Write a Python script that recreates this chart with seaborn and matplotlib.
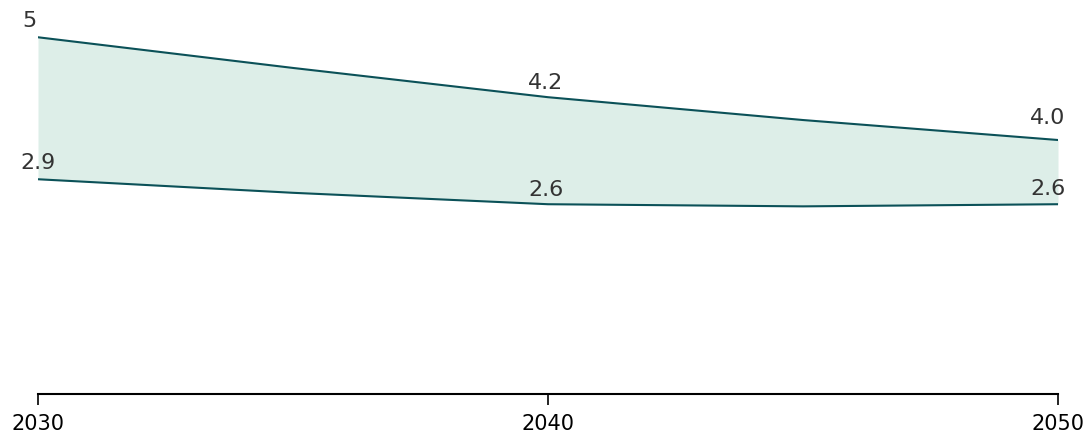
import matplotlib
matplotlib.use("Agg")
import matplotlib.pyplot as plt
import pandas as pd
import seaborn as sns

years = [2030, 2035, 2040, 2045, 2050]
upper = [5.00, 4.57, 4.16, 3.84, 3.56]
lower = [3.01, 2.82, 2.66, 2.63, 2.66]

label_years = [2030, 2040, 2050]
upper_labels = ["5", "4.2", "4.0"]
lower_labels = ["2.9", "2.6", "2.6"]
tick_years = [2030, 2040, 2050]

line_color = "#0b5158"
fill_color = "#ddeee8"
text_color = "#333333"

df = pd.DataFrame({"year": years, "upper": upper, "lower": lower})

sns.set_style("white")
plt.rcParams["font.family"] = ["DejaVu Sans"]

fig = plt.figure(figsize=(10.89, 4.35), dpi=100)
ax = fig.add_axes([38 / 1089, 40 / 435, 1020 / 1089, 1 - 40 / 435 - 24 / 435])

ax.fill_between(df["year"], df["lower"], df["upper"], color=fill_color, lw=0)
sns.lineplot(data=df, x="year", y="upper", color=line_color, lw=1.5, ax=ax)
sns.lineplot(data=df, x="year", y="lower", color=line_color, lw=1.5, ax=ax)

# value labels (offsets in points)
lookup = df.set_index("year")
up_off = {2030: (-6, 5.5), 2040: (-1.5, 3.5), 2050: (-7.5, 9.5)}
lo_off = {2030: (0, 5), 2040: (-1.5, 3.5), 2050: (-7.5, 4.5)}
for yr, ut, lt in zip(label_years, upper_labels, lower_labels):
    ax.annotate(ut, (yr, lookup.loc[yr, "upper"]), xytext=up_off[yr],
                textcoords="offset points", ha="center", va="bottom",
                fontsize=16, color=text_color)
    ax.annotate(lt, (yr, lookup.loc[yr, "lower"]), xytext=lo_off[yr],
                textcoords="offset points", ha="center", va="bottom",
                fontsize=16, color=text_color)

ax.set_xlim(2030, 2050)
ax.set_ylim(0, 5.2)
ax.set_xticks(tick_years)
ax.set_xticklabels([str(t) for t in tick_years], fontsize=15, color="black")
ax.set_yticks([])
ax.set_xlabel("")
ax.set_ylabel("")
for s in ["top", "right", "left"]:
    ax.spines[s].set_visible(False)
ax.spines["bottom"].set_color("black")
ax.spines["bottom"].set_linewidth(1.5)
ax.tick_params(axis="x", bottom=True, length=8, width=1.2, color="black", pad=6)

fig.savefig("out.png", dpi=100)
